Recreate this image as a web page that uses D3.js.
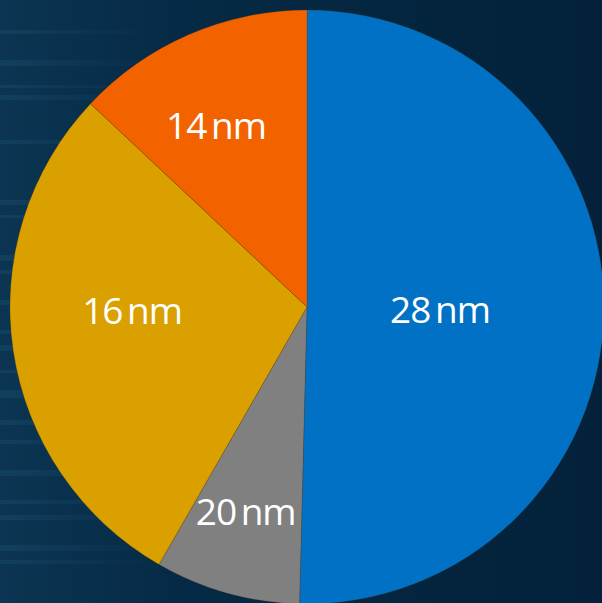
<!DOCTYPE html>
<html>
<head>
<meta charset="utf-8">
<script src="https://cdn.jsdelivr.net/npm/d3@7"></script>
<style>
html,body{margin:0;padding:0;background:#03223a;overflow:hidden;}
svg{display:block;}
</style>
</head>
<body>
<svg id="chart" width="602" height="603"></svg>
<script>
const categories = ["28 nm", "20 nm", "16 nm", "14 nm"];
const values = [50.4, 7.9, 28.7, 13.0];
const colors = ["#0071c5", "#808080", "#d9a000", "#f26300"];

const W = 602, H = 603;
const cx = 307, cy = 307, R = 297;
const svg = d3.select("#chart");
const defs = svg.append("defs");

const bg = defs.append("linearGradient").attr("id", "bg").attr("x1", "0").attr("x2", "1").attr("y1", "0").attr("y2", "0");
bg.append("stop").attr("offset", "0").attr("stop-color", "#0b3552");
bg.append("stop").attr("offset", "0.3").attr("stop-color", "#062a45");
bg.append("stop").attr("offset", "1").attr("stop-color", "#03213a");
svg.append("rect").attr("width", W).attr("height", H).attr("fill", "url(#bg)");

// decorative horizontal streaks on the left
const streakY = [30, 60, 85, 95, 140, 200, 215, 255, 270, 300, 330, 345, 370, 390, 420, 440, 470, 500, 515, 545, 560];
const streakH = [4, 6, 3, 5, 4, 5, 3, 6, 4, 5, 4, 6, 3, 8, 5, 4, 6, 4, 5, 6, 4];
const sg = defs.append("linearGradient").attr("id", "streak").attr("x1", "0").attr("x2", "1");
sg.append("stop").attr("offset", "0").attr("stop-color", "#2a6a90").attr("stop-opacity", 0.2);
sg.append("stop").attr("offset", "1").attr("stop-color", "#2a6a90").attr("stop-opacity", 0);
svg.append("g").selectAll("rect").data(streakY).join("rect")
  .attr("x", 0).attr("y", d => d).attr("width", 160)
  .attr("height", (d, i) => streakH[i]).attr("fill", "url(#streak)");

const pie = d3.pie().sort(null).value(d => d);
const arcs = pie(values);
const arc = d3.arc().innerRadius(0).outerRadius(R);

const g = svg.append("g").attr("transform", `translate(${cx},${cy})`);
g.selectAll("path").data(arcs).join("path")
  .attr("d", arc)
  .attr("fill", (d, i) => colors[i])
  .attr("stroke", "rgba(80,50,0,0.35)")
  .attr("stroke-width", 0.6);

// label placement: radius fraction and angle offset (degrees) from slice mid-angle
const labelR = [0.448, 0.72, 0.589, 0.682];
const labelDA = [0.6, 1.0, 7.2, -3.3];
g.selectAll("text").data(arcs).join("text")
  .attr("transform", (d, i) => {
    const a = (d.startAngle + d.endAngle) / 2 + labelDA[i] * Math.PI / 180;
    const r = R * labelR[i];
    return `translate(${Math.sin(a) * r},${-Math.cos(a) * r})`;
  })
  .attr("text-anchor", "middle")
  .attr("dy", "0.36em")
  .attr("fill", "#ffffff")
  .attr("font-family", "'Open Sans', 'Noto Sans', sans-serif")
  .attr("font-size", 37)
  .attr("letter-spacing", -1)
  .attr("word-spacing", -4)
  .text((d, i) => categories[i]);
</script>
</body>
</html>
